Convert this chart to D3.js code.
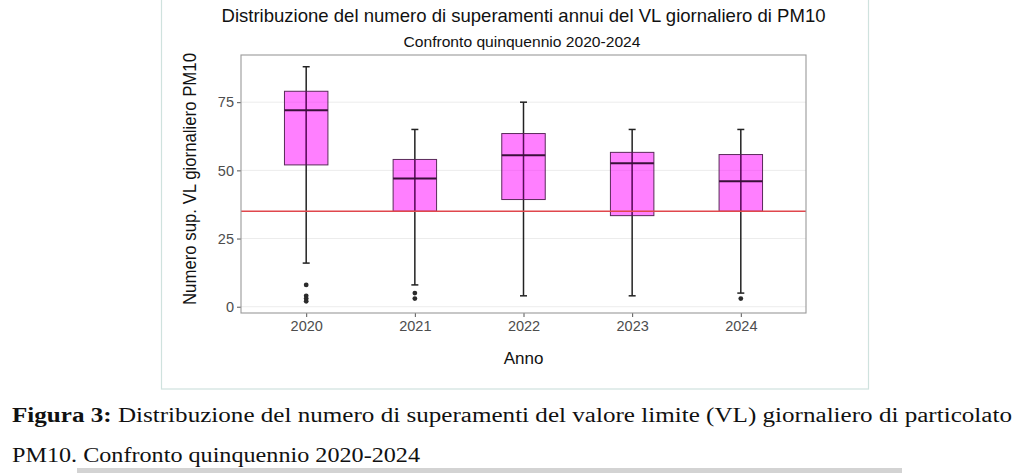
<!DOCTYPE html>
<html><head><meta charset="utf-8">
<script src="https://cdn.jsdelivr.net/npm/d3@7"></script>
<style>body{margin:0;background:#fff;}svg{display:block;}</style>
</head><body>
<svg id="c" width="1024" height="473"></svg>
<script>
const years = ["2020","2021","2022","2023","2024"];
const whiskerLow = [16, 8, 4, 4, 5];
const q1 = [52, 35, 39.3, 33.4, 35];
const median = [72, 47, 55.5, 52.6, 46];
const q3 = [79, 54, 63.5, 56.6, 55.8];
const whiskerHigh = [88, 65, 75, 65, 65];
const outliers = [[8, 4, 3, 2], [5, 3], [], [], [3]];
const threshold = 35;
const yTicks = [0, 25, 50, 75];

const svg = d3.select("#c");
const L = 241, R = 806, T = 55, B = 313;

// figure frame
svg.append("rect").attr("x", 161.5).attr("y", -2).attr("width", 707).attr("height", 391)
  .attr("fill", "none").attr("stroke", "#cfe2de").attr("stroke-width", 1.2);
svg.append("rect").attr("x", 77).attr("y", 468).attr("width", 825).attr("height", 5).attr("fill", "#d3d3d3");

const x = d3.scalePoint().domain(years).range([L, R]).padding(0.6);
const y = d3.scaleLinear().domain([-2.3, 92.3]).range([B, T]);
const step = x.step();
const bw = step * 0.4;
const capW = 7;

// grid
svg.append("g").selectAll("line").data(yTicks).join("line")
  .attr("x1", L).attr("x2", R).attr("y1", d => y(d)).attr("y2", d => y(d))
  .attr("stroke", "#ececec").attr("stroke-width", 1);

// axes
const ya = svg.append("g").attr("transform", `translate(${L},0)`)
  .call(d3.axisLeft(y).tickValues(yTicks).tickSize(4).tickPadding(3));
const xa = svg.append("g").attr("transform", `translate(0,${B})`)
  .call(d3.axisBottom(x).tickSize(4).tickPadding(4));
[ya, xa].forEach(a => {
  a.select(".domain").remove();
  a.selectAll("line").attr("stroke", "#555");
  a.selectAll("text").attr("fill", "#4d4d4d").style("font-family", "Liberation Sans, Arial, sans-serif").style("font-size", "14.5px");
});

const data = years.map((yr, i) => ({yr, lo: whiskerLow[i], q1: q1[i], med: median[i], q3: q3[i], hi: whiskerHigh[i], out: outliers[i]}));

const g = svg.append("g");
// whiskers
g.selectAll(".wh").data(data).join("line")
  .attr("x1", d => x(d.yr)).attr("x2", d => x(d.yr))
  .attr("y1", d => y(d.lo)).attr("y2", d => y(d.hi))
  .attr("stroke", "#222").attr("stroke-width", 1.5);
g.selectAll(".capH").data(data).join("line")
  .attr("x1", d => x(d.yr) - capW / 2).attr("x2", d => x(d.yr) + capW / 2)
  .attr("y1", d => y(d.hi)).attr("y2", d => y(d.hi))
  .attr("stroke", "#222").attr("stroke-width", 1.5);
g.selectAll(".capL").data(data).join("line")
  .attr("x1", d => x(d.yr) - capW / 2).attr("x2", d => x(d.yr) + capW / 2)
  .attr("y1", d => y(d.lo)).attr("y2", d => y(d.lo))
  .attr("stroke", "#222").attr("stroke-width", 1.5);
// boxes
g.selectAll(".box").data(data).join("rect")
  .attr("x", d => x(d.yr) - bw / 2).attr("width", bw)
  .attr("y", d => y(d.q3)).attr("height", d => y(d.q1) - y(d.q3))
  .attr("fill", "#ff00ff").attr("fill-opacity", 0.5)
  .attr("stroke", "#5a2a5a").attr("stroke-width", 1);
// whisker inside box (visible through translucent fill)
g.selectAll(".wi").data(data).join("line")
  .attr("x1", d => x(d.yr)).attr("x2", d => x(d.yr))
  .attr("y1", d => y(d.q1)).attr("y2", d => y(d.q3))
  .attr("stroke", "#3a103a").attr("stroke-width", 1.2).attr("opacity", 0.7);
g.selectAll(".med").data(data).join("line")
  .attr("x1", d => x(d.yr) - bw / 2).attr("x2", d => x(d.yr) + bw / 2)
  .attr("y1", d => y(d.med)).attr("y2", d => y(d.med))
  .attr("stroke", "#3a103a").attr("stroke-width", 2);
// outliers
data.forEach(d => {
  g.selectAll(null).data(d.out).join("circle")
    .attr("cx", x(d.yr)).attr("cy", v => y(v)).attr("r", 2.4).attr("fill", "#2b2b2b");
});

// threshold line
svg.append("line").attr("x1", L).attr("x2", R).attr("y1", y(threshold)).attr("y2", y(threshold))
  .attr("stroke", "#e0474c").attr("stroke-width", 1.4);

// panel border
svg.append("rect").attr("x", L).attr("y", T).attr("width", R - L).attr("height", B - T)
  .attr("fill", "none").attr("stroke", "#9a9a9a").attr("stroke-width", 1.1);

// titles
const sans = "Liberation Sans, Arial, sans-serif";
svg.append("text").attr("x", 523.5).attr("y", 22).attr("text-anchor", "middle")
  .style("font-family", sans).style("font-size", "18.5px").attr("fill", "#111")
  .attr("textLength", 604).attr("lengthAdjust", "spacingAndGlyphs")
  .text("Distribuzione del numero di superamenti annui del VL giornaliero di PM10");
svg.append("text").attr("x", 522).attr("y", 47).attr("text-anchor", "middle")
  .style("font-family", sans).style("font-size", "14.5px").attr("fill", "#111")
  .attr("textLength", 237).attr("lengthAdjust", "spacingAndGlyphs")
  .text("Confronto quinquennio 2020-2024");
svg.append("text").attr("transform", "translate(196,179) rotate(-90)").attr("text-anchor", "middle")
  .style("font-family", sans).style("font-size", "18px").attr("fill", "#111")
  .attr("textLength", 252).attr("lengthAdjust", "spacingAndGlyphs")
  .text("Numero sup. VL giornaliero PM10");
svg.append("text").attr("x", 523.5).attr("y", 364).attr("text-anchor", "middle")
  .style("font-family", sans).style("font-size", "17px").attr("fill", "#111")
  .text("Anno");

// caption
const serif = "Liberation Serif, 'DejaVu Serif', serif";
const cap1 = svg.append("text").attr("x", 12).attr("y", 422)
  .style("font-family", serif).style("font-size", "20.5px").attr("fill", "#111")
  .attr("textLength", 1000).attr("lengthAdjust", "spacingAndGlyphs");
cap1.append("tspan").style("font-weight", "bold").text("Figura 3:");
cap1.append("tspan").text(" Distribuzione del numero di superamenti del valore limite (VL) giornaliero di particolato");
svg.append("text").attr("x", 12).attr("y", 462)
  .style("font-family", serif).style("font-size", "20.5px").attr("fill", "#111")
  .attr("textLength", 408).attr("lengthAdjust", "spacingAndGlyphs")
  .text("PM10. Confronto quinquennio 2020-2024");
</script>
</body></html>
